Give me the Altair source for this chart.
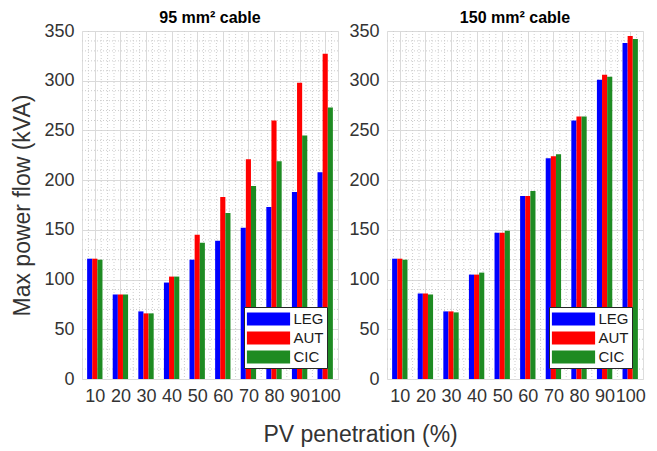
import altair as alt
import pandas as pd

# ---- data ----
penetration = [10, 20, 30, 40, 50, 60, 70, 80, 90, 100]
series_names = ["LEG", "AUT", "CIC"]
series_colors = ["#0000FF", "#FF0000", "#1E8B22"]

leg_95 = [121, 85, 68, 97, 120, 139, 152, 173, 188, 208]
aut_95 = [121, 85, 66, 103, 145, 183, 221, 260, 298, 327]
cic_95 = [120, 85, 66, 103, 137, 167, 194, 219, 245, 273]

leg_150 = [121, 86, 68, 105, 147, 184, 222, 260, 301, 338]
aut_150 = [121, 86, 68, 105, 147, 184, 224, 264, 306, 345]
cic_150 = [120, 85, 67, 107, 149, 189, 226, 264, 304, 342]

panel_titles = ["95 mm\u00b2 cable", "150 mm\u00b2 cable"]
y_title = "Max power flow (kVA)"
x_title = "PV penetration (%)"

FONT = "Liberation Sans"
TXT = "#333333"
GRID = "#dadada"
MINOR = "#cdcdcd"

W, H = 256, 348


def make_df(leg, aut, cic):
    rows = []
    for name, vals in zip(series_names, [leg, aut, cic]):
        for p, v in zip(penetration, vals):
            rows.append({"pen": p, "series": name, "value": v,
                         "k": series_names.index(name)})
    return pd.DataFrame(rows)


xscale = alt.Scale(domain=[5, 105], nice=False, zero=False)
yscale = alt.Scale(domain=[0, 350], nice=False)


def panel(df, title, show_ytitle):
    yaxis = alt.Axis(values=list(range(0, 351, 50)), grid=True, gridColor=GRID,
                     domain=False, ticks=False, labelFontSize=18, labelFont=FONT,
                     labelColor=TXT, labelPadding=8,
                     title=y_title if show_ytitle else None,
                     titleFontSize=23, titleFont=FONT, titleFontWeight="normal",
                     titleColor=TXT, titlePadding=9)
    xaxis = alt.Axis(values=penetration, grid=True, gridColor=GRID, domain=False,
                     ticks=False, labelFontSize=18, labelFont=FONT, labelColor=TXT,
                     labelPadding=8, labelOverlap=False, labelFlush=False,
                     labelAngle=0, title=None)

    minor_y = alt.Chart(alt.sequence(0, 351, 10, as_="v")).transform_filter(
        "datum.v % 50 != 0"
    ).mark_rule(color=MINOR, strokeDash=[1, 2], strokeWidth=1).encode(
        y=alt.Y("v:Q", scale=yscale, axis=yaxis)
    )
    minor_x = alt.Chart(alt.sequence(7.5, 105, 2.5, as_="u")).transform_filter(
        "datum.u % 10 != 0"
    ).mark_rule(color=MINOR, strokeDash=[1, 2], strokeWidth=1).encode(
        x=alt.X("u:Q", scale=xscale, axis=xaxis)
    )

    bars = alt.Chart(df).transform_calculate(
        x0="datum.pen + 2*(datum.k-1) - 1",
        x1="datum.pen + 2*(datum.k-1) + 1",
    ).mark_bar(strokeWidth=0).encode(
        x=alt.X("x0:Q", scale=xscale, axis=xaxis),
        x2="x1:Q",
        y=alt.Y("value:Q", scale=yscale, axis=yaxis),
        y2=alt.datum(0),
        color=alt.Color(
            "series:N",
            scale=alt.Scale(domain=series_names, range=series_colors),
            sort=series_names,
            legend=alt.Legend(
                orient="bottom-right", title=None, offset=11, padding=3,
                strokeColor="#262626", fillColor="white", cornerRadius=0,
                symbolType="M-2.4,-0.72H2.4V0.72H-2.4Z", symbolSize=324,
                symbolStrokeWidth=0, symbolOpacity=1, symbolOffset=12.5,
                labelFontSize=15, labelFont=FONT, labelColor="#1a1a1a",
                labelOffset=16, rowPadding=2,
            ),
        ),
    )
    return alt.layer(minor_y, minor_x, bars).properties(
        width=W, height=H,
        title=alt.TitleParams(title, fontSize=16, font=FONT, fontWeight="bold",
                              color="black", anchor="middle", offset=-4),
    )


left = panel(make_df(leg_95, aut_95, cic_95), panel_titles[0], True)
right = panel(make_df(leg_150, aut_150, cic_150), panel_titles[1], False)

chart = alt.hconcat(left, right, spacing=7).resolve_legend(
    color="independent"
).properties(
    title=alt.TitleParams(x_title, orient="bottom", anchor="middle", fontSize=23,
                          font=FONT, fontWeight="normal", color=TXT, offset=18,
                          dx=32),
    padding={"left": 11, "top": 9, "right": 5, "bottom": 5},
).configure_view(stroke="#262626", strokeWidth=1).configure(background="white")

chart.save("out.html", embed_options={"renderer": "svg", "actions": False})
